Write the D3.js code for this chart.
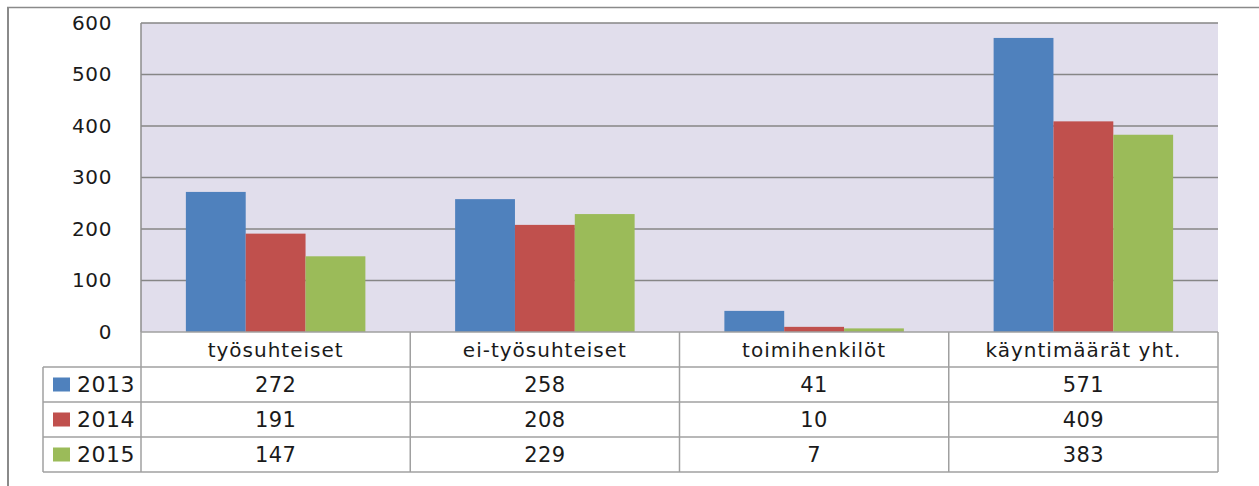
<!DOCTYPE html>
<html>
<head>
<meta charset="utf-8">
<script src="https://cdn.jsdelivr.net/npm/d3@7"></script>
<style>
  html, body { margin: 0; padding: 0; background: #ffffff; }
  svg { display: block; }
  text { font-family: "DejaVu Sans", sans-serif; fill: #1a1a1a; }
</style>
</head>
<body>
<svg id="chart" width="1259" height="486"></svg>
<script>
const categories = ["työsuhteiset", "ei-työsuhteiset", "toimihenkilöt", "käyntimäärät yht."];
const seriesNames = ["2013", "2014", "2015"];
const values2013 = [272, 258, 41, 571];
const values2014 = [191, 208, 10, 409];
const values2015 = [147, 229, 7, 383];
const seriesColors = ["#4F81BD", "#C0504D", "#9BBB59"];
const yTicks = [0, 100, 200, 300, 400, 500, 600];

const seriesValues = [values2013, values2014, values2015];

const svg = d3.select("#chart");
const W = 1259, H = 486;
const plot = { left: 141, right: 1218, top: 23, bottom: 332 };
const rowH = 35;
const legendLeft = 43;

// outer frame
svg.append("line").attr("x1", 7).attr("x2", W).attr("y1", 7.5).attr("y2", 7.5)
  .attr("stroke", "#8a8a8a").attr("stroke-width", 1.5);
svg.append("line").attr("x1", 8).attr("x2", 8).attr("y1", 7).attr("y2", H)
  .attr("stroke", "#8a8a8a").attr("stroke-width", 2);

const x = d3.scaleBand().domain(categories).range([plot.left, plot.right]).paddingInner(0).paddingOuter(0);
const xs = d3.scaleBand().domain(seriesNames).range([0, x.bandwidth()]).paddingInner(0).paddingOuter(0.75);
const y = d3.scaleLinear().domain([0, 600]).range([plot.bottom, plot.top]);

// plot background
svg.append("rect").attr("x", plot.left).attr("y", plot.top)
  .attr("width", plot.right - plot.left).attr("height", plot.bottom - plot.top)
  .attr("fill", "#E1DEEC");

// gridlines
svg.append("g").selectAll("line").data(yTicks.filter(d => d > 0)).join("line")
  .attr("x1", plot.left).attr("x2", plot.right)
  .attr("y1", d => y(d)).attr("y2", d => y(d))
  .attr("stroke", "#868686").attr("stroke-width", 1.5);

// plot left border
svg.append("line").attr("x1", plot.left).attr("x2", plot.left).attr("y1", plot.top).attr("y2", plot.bottom)
  .attr("stroke", "#8c8c8c").attr("stroke-width", 1.5);

// bars
const bars = [];
categories.forEach((c, ci) => {
  seriesNames.forEach((s, si) => {
    bars.push({ cat: c, series: s, value: seriesValues[si][ci], color: seriesColors[si] });
  });
});
svg.append("g").selectAll("rect").data(bars).join("rect")
  .attr("x", d => x(d.cat) + xs(d.series))
  .attr("y", d => y(d.value))
  .attr("width", xs.bandwidth())
  .attr("height", d => y(0) - y(d.value))
  .attr("fill", d => d.color);

// y axis
const yAxis = d3.axisLeft(y).tickValues(yTicks).tickSize(0).tickPadding(29);
const ya = svg.append("g").attr("transform", `translate(${plot.left},0)`).call(yAxis);
ya.select(".domain").remove();
ya.selectAll("text").style("font-family", "DejaVu Sans, sans-serif").style("font-size", "20px")
  .style("letter-spacing", "0.6px").attr("fill", "#1a1a1a");

// data table
const tableTop = plot.bottom;
const tableBottom = tableTop + rowH * (seriesNames.length + 1);
const gridColor = "#a0a0a0";
const tg = svg.append("g");

// horizontal lines
tg.append("line").attr("x1", plot.left).attr("x2", plot.right).attr("y1", tableTop).attr("y2", tableTop)
  .attr("stroke", gridColor).attr("stroke-width", 1.5);
for (let r = 1; r <= seriesNames.length + 1; r++) {
  tg.append("line").attr("x1", legendLeft).attr("x2", plot.right)
    .attr("y1", tableTop + r * rowH).attr("y2", tableTop + r * rowH)
    .attr("stroke", gridColor).attr("stroke-width", 1.5);
}
// vertical lines
const colEdges = categories.map(c => x(c)).concat([plot.right]);
colEdges.forEach(xv => {
  tg.append("line").attr("x1", xv).attr("x2", xv).attr("y1", tableTop).attr("y2", tableBottom)
    .attr("stroke", gridColor).attr("stroke-width", 1.5);
});
tg.append("line").attr("x1", legendLeft).attr("x2", legendLeft).attr("y1", tableTop + rowH).attr("y2", tableBottom)
  .attr("stroke", gridColor).attr("stroke-width", 1.5);

// header texts
tg.selectAll("text.cat").data(categories).join("text").attr("class", "cat")
  .attr("x", d => x(d) + x.bandwidth() / 2).attr("y", tableTop + rowH / 2)
  .attr("text-anchor", "middle").attr("dominant-baseline", "central")
  .style("font-size", "20px").style("letter-spacing", "1px").text(d => d);

// rows
seriesNames.forEach((s, si) => {
  const ry = tableTop + rowH * (si + 1);
  tg.append("rect").attr("x", 53).attr("y", ry + rowH / 2 - 7).attr("width", 17).attr("height", 14)
    .attr("fill", seriesColors[si]);
  tg.append("text").attr("x", 77).attr("y", ry + rowH / 2)
    .attr("dominant-baseline", "central").style("font-size", "22px").style("letter-spacing", "0.5px").text(s);
  tg.selectAll(null).data(categories).join("text")
    .attr("x", d => x(d) + x.bandwidth() / 2).attr("y", ry + rowH / 2)
    .attr("text-anchor", "middle").attr("dominant-baseline", "central")
    .style("font-size", "21px").style("letter-spacing", "0.4px")
    .text((d, ci) => seriesValues[si][ci]);
});
</script>
</body>
</html>
